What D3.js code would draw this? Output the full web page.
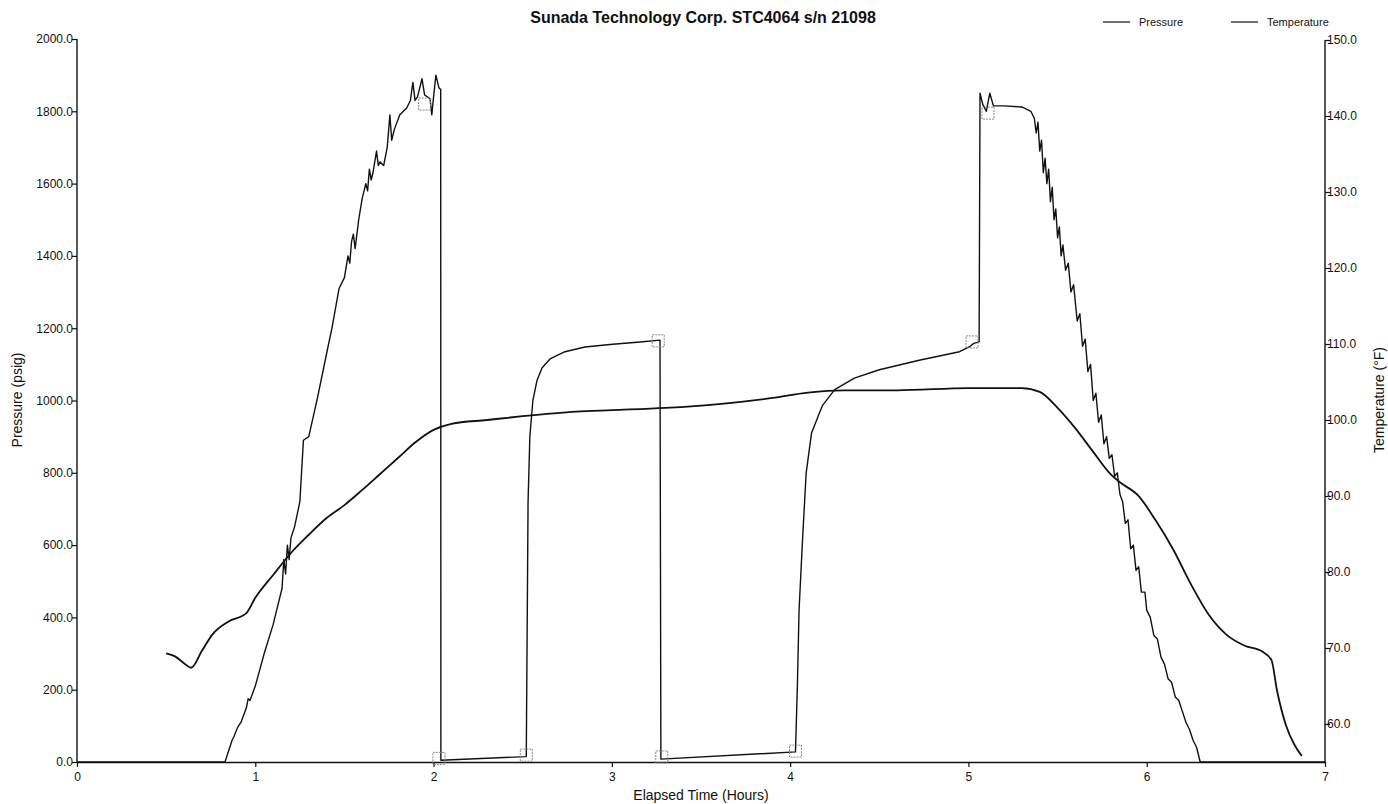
<!DOCTYPE html>
<html>
<head>
<meta charset="utf-8">
<script src="https://cdn.jsdelivr.net/npm/d3@7"></script>
<style>
html,body{margin:0;padding:0;background:#fff;}
svg{display:block;font-family:"Liberation Sans",Arial,sans-serif;}
</style>
</head>
<body>
<svg id="chart" width="1388" height="804"></svg>
<script>
const titleText = "Sunada Technology Corp. STC4064 s/n 21098";
const xLabel = "Elapsed Time (Hours)";
const yLeftLabel = "Pressure (psig)";
const yRightLabel = "Temperature (°F)";
const seriesNames = ["Pressure", "Temperature"];
const xTicks = [0, 1, 2, 3, 4, 5, 6, 7];
const pTicks = [0, 200, 400, 600, 800, 1000, 1200, 1400, 1600, 1800, 2000];
const tTicks = [60, 70, 80, 90, 100, 110, 120, 130, 140, 150];

// Pressure (psig) vs elapsed hours
const pressureHours = [0,0.83,0.87,0.88,0.90,0.92,0.95,0.96,0.97,1.0,1.05,1.1,1.13,1.15,1.16,1.17,1.18,1.19,1.2,1.22,1.25,1.27,1.3,1.35,1.4,1.43,1.47,1.5,1.52,1.53,1.54,1.55,1.56,1.58,1.6,1.62,1.63,1.64,1.65,1.66,1.68,1.69,1.70,1.72,1.74,1.755,1.765,1.78,1.81,1.85,1.87,1.884,1.896,1.91,1.935,1.95,1.98,1.99,2.0,2.013,2.03,2.04,2.041,
 2.52,2.53,2.54,2.557,2.58,2.608,2.653,2.737,2.849,2.989,3.158,3.27,3.275,
 4.03,4.04,4.05,4.07,4.09,4.12,4.18,4.25,4.36,4.5,4.73,4.95,5.01,5.03,5.06,5.065,5.08,5.1,5.12,5.14,5.2,5.3,
 5.35,5.37,5.38,5.39,5.40,5.41,5.42,5.43,5.44,5.45,5.46,5.47,5.48,5.49,5.50,5.51,5.52,5.53,5.545,5.56,5.575,5.59,5.61,5.625,5.64,5.655,5.67,5.685,5.70,5.715,5.73,5.745,5.76,5.775,5.79,5.805,5.82,5.835,5.85,5.865,5.88,5.895,5.91,5.925,5.94,5.955,5.97,5.99,6.0,6.02,6.04,6.06,6.08,6.10,6.12,6.14,6.16,6.18,6.2,6.22,6.24,6.26,6.28,6.30,7.0];
const pressureValues = [0,0,60,70,95,110,150,175,170,210,300,380,440,480,560,520,600,560,620,650,720,890,900,1010,1130,1200,1310,1340,1400,1380,1440,1460,1420,1500,1560,1600,1580,1640,1610,1630,1690,1650,1660,1650,1700,1790,1720,1750,1790,1810,1830,1880,1830,1840,1890,1845,1835,1790,1840,1900,1865,1860,5,
 15,720,900,1000,1055,1090,1115,1135,1148,1155,1162,1167,8,
 28,200,420,620,800,910,985,1030,1062,1085,1112,1135,1150,1158,1162,1850,1820,1800,1850,1815,1815,1812,
 1800,1780,1740,1770,1690,1720,1630,1670,1600,1640,1550,1590,1500,1530,1450,1480,1400,1430,1360,1380,1300,1320,1220,1240,1150,1170,1080,1100,1000,1020,940,960,880,900,840,850,790,800,740,720,660,670,590,600,530,540,470,470,420,400,350,340,290,270,230,220,180,170,140,110,90,60,40,0,0];

// Temperature (°F) vs elapsed hours
const tempHours = [0.50,0.55,0.60,0.64,0.70,0.76,0.85,0.95,1.0,1.1,1.2,1.3,1.4,1.5,1.6,1.7,1.8,1.9,2.0,2.1,2.3,2.5,2.8,3.0,3.3,3.6,3.9,4.1,4.3,4.6,5.0,5.3,5.4,5.5,5.6,5.7,5.8,5.85,5.95,6.05,6.15,6.25,6.35,6.45,6.55,6.65,6.70,6.73,6.78,6.83,6.87];
const tempValues = [69.3,68.9,68.0,67.4,69.6,71.8,73.5,74.6,76.6,79.6,82.5,84.9,87.1,88.8,90.8,92.9,95.0,97.1,98.7,99.5,100.0,100.5,101.1,101.3,101.6,102.1,102.9,103.6,103.9,103.9,104.2,104.2,103.7,101.6,98.9,95.8,92.8,91.8,90.1,86.8,82.9,78.3,74.3,71.7,70.3,69.5,68.4,64.5,59.9,57.2,55.8];

// Event markers on the pressure trace
const markerHours = [1.95,2.03,2.52,3.26,3.28,4.03,5.02,5.11];
const markerValues = [1820,10,19,1165,14,30,1162,1795];

const svg = d3.select("#chart");
const x = d3.scaleLinear().domain([0,7]).range([77,1325]);
const yP = d3.scaleLinear().domain([0,2000]).range([762,39]);
const yT = d3.scaleLinear().domain([55,150]).range([762,40]);

// Axes
const xAxis = d3.axisBottom(x).tickValues(xTicks).tickFormat(d3.format("d")).tickSize(5).tickSizeOuter(0);
const gx = svg.append("g").attr("transform","translate(0,762)").call(xAxis);
gx.selectAll("text").attr("font-size",12).attr("fill","#111").attr("dy","0.9em");

const yAxisL = d3.axisLeft(yP).tickValues(pTicks).tickFormat(d3.format(".1f")).tickSize(5).tickSizeOuter(0);
const gyl = svg.append("g").attr("transform","translate(77,0)").call(yAxisL);
gyl.selectAll("text").attr("font-size",12).attr("fill","#111").attr("x",-4);

const yAxisR = d3.axisRight(yT).tickValues(tTicks).tickFormat(d3.format(".1f")).tickSize(5).tickSizeOuter(0);
const gyr = svg.append("g").attr("transform","translate(1325,0)").call(yAxisR);
gyr.selectAll("text").attr("font-size",12).attr("fill","#111").attr("x",2);
gyr.select(".domain").attr("d","M0,"+yT(150)+"V762");
gyl.select(".domain").attr("d","M0,"+yP(2000)+"V762");

svg.selectAll(".domain").attr("stroke","#111").attr("stroke-width",1.4);
svg.selectAll(".tick line").attr("stroke","#111").attr("stroke-width",1.2);

// Lines
const pData = pressureHours.map((h,i)=>[h,pressureValues[i]]);
const tData = tempHours.map((h,i)=>[h,tempValues[i]]);
const lineP = d3.line().x(d=>x(d[0])).y(d=>yP(d[1]));
const lineT = d3.line().x(d=>x(d[0])).y(d=>yT(d[1])).curve(d3.curveMonotoneX);

svg.append("path").datum(tData).attr("d",lineT).attr("fill","none").attr("stroke","#111").attr("stroke-width",1.8);
svg.append("path").datum(pData).attr("d",lineP).attr("fill","none").attr("stroke","#111").attr("stroke-width",1.4).attr("stroke-linejoin","round");

// Markers
svg.append("g").selectAll("rect").data(markerHours.map((h,i)=>[h,markerValues[i]])).join("rect")
  .attr("x",d=>x(d[0])-6).attr("y",d=>yP(d[1])-6).attr("width",12).attr("height",12)
  .attr("fill","none").attr("stroke","#888").attr("stroke-width",1).attr("stroke-dasharray","2,1");

// Title
svg.append("text").attr("x",703).attr("y",23).attr("text-anchor","middle")
  .attr("font-size",16).attr("font-weight","bold").attr("fill","#111").text(titleText);

// Axis labels
svg.append("text").attr("x",701).attr("y",800).attr("text-anchor","middle")
  .attr("font-size",14).attr("fill","#111").text(xLabel);
svg.append("text").attr("transform","translate(22,400) rotate(-90)").attr("text-anchor","middle")
  .attr("font-size",14).attr("fill","#111").text(yLeftLabel);
svg.append("text").attr("transform","translate(1384,400) rotate(-90)").attr("text-anchor","middle")
  .attr("font-size",14).attr("fill","#111").text(yRightLabel);

// Legend
const legendX = [1103, 1231];
const lg = svg.append("g").selectAll("g").data(seriesNames).join("g")
  .attr("transform",(d,i)=>"translate("+legendX[i]+",22)");
lg.append("line").attr("x1",0).attr("x2",27).attr("y1",0).attr("y2",0).attr("stroke","#111").attr("stroke-width",1.2);
lg.append("text").attr("x",36).attr("y",4).attr("font-size",11).attr("fill","#111").text(d=>d);
</script>
</body>
</html>
